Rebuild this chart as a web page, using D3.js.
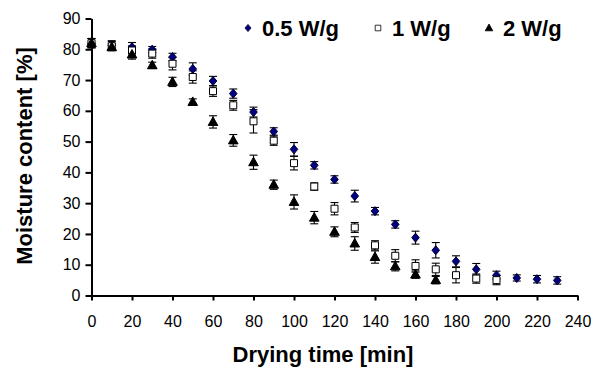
<!DOCTYPE html>
<html lang="en">
  <head>
    <title>moisture content vs drying time</title>
    <meta content="text/html;charset=utf-8" http-equiv="Content-Type">
    <script src="https://cdn.jsdelivr.net/npm/d3@7/dist/d3.min.js"></script>
    <style>
      body { margin: 0; background: #fff; }
      text { font-family: 'Liberation Sans', Arial, sans-serif; }
    </style>
  </head>

  <body>
    <div id='main'></div>
  </body>

  <script type='text/javascript'>

      // drying time [min] for each series
      const time05 = [0,10,20,30,40,50,60,70,80,90,100,110,120,130,140,150,160,170,180,190,200,210,220,230];
      const time1  = [0,10,20,30,40,50,60,70,80,90,100,110,120,130,140,150,160,170,180,190,200];
      const time2  = [0,10,20,30,40,50,60,70,80,90,100,110,120,130,140,150,160,170];

      // moisture content [%] and error (+/-)
      const moist05 = [82,81.3,80.7,79.9,77.5,73.6,69.7,65.6,59.6,53.3,47.5,42.3,37.7,32.3,27.4,23.1,18.8,14.7,11.1,8.5,6.6,5.7,5.3,4.9];
      const err05   = [1.5,1.5,1.5,1,1.2,2,1.5,1.5,1.6,1.2,2.2,1.2,1.2,1.9,1.2,1.2,2.1,2.5,1.8,1.9,1.3,1,1.2,1.2];
      const moist1  = [82,81,79.6,78.6,75.3,71,66.4,61.8,56.6,50.3,43,35.4,28.2,22.1,16.3,12.9,9.6,8.5,6.6,5.5,5.0];
      const err1    = [1.5,1.5,1.5,1.5,2,2,1.7,1.6,3.8,1.5,2.2,1.2,2,1.6,1.5,2,2,2,2.5,1.5,1.5];
      const moist2  = [82,80.7,78.3,74.8,69.4,62.9,56.4,50.4,43.3,36.0,30.4,25.3,20.7,16.9,12.5,9.5,6.8,5.0];
      const err2    = [1.5,1,1.5,1,1.5,1,2,1.9,2.3,1.5,2.3,2,1.6,2.2,2,1.5,1.2,1.2];

      const seriesNames = ['0.5 W/g', '1 W/g', '2 W/g'];
      const xTicks = d3.range(0, 241, 20);
      const yTicks = d3.range(0, 91, 10);

      const series = [
        {name: seriesNames[0], t: time05, m: moist05, e: err05, shape: 'diamond'},
        {name: seriesNames[1], t: time1,  m: moist1,  e: err1,  shape: 'square'},
        {name: seriesNames[2], t: time2,  m: moist2,  e: err2,  shape: 'triangle'}
      ];

      let canvas = d3.select('#main').append('svg')
        .attr('width', 591)
        .attr('height', 367);

      const x = d3.scaleLinear().domain([0, 240]).range([91.5, 577.5]);
      const y = d3.scaleLinear().domain([0, 90]).range([295.5, 18.5]);

      // marker shapes
      function markerPath(shape) {
        if (shape == 'diamond') return 'M0,-4.5L3.8,0L0,4.5L-3.8,0Z';
        if (shape == 'square') return 'M-3.5,-3.5H3.5V3.5H-3.5Z';
        return 'M0,-5L4.8,3.5H-4.8Z';
      }
      const markerStyle = {
        diamond:  {fill: '#000080', stroke: '#000033'},
        square:   {fill: '#ffffff', stroke: '#000000'},
        triangle: {fill: '#000000', stroke: '#000000'}
      };

      // axes
      const xAxis = canvas.append('g')
        .attr('transform', `translate(0,${y(0)})`)
        .call(d3.axisBottom(x).tickValues(xTicks).tickSize(5).tickSizeOuter(0).tickPadding(15));
      const yAxis = canvas.append('g')
        .attr('transform', `translate(${x(0)},0)`)
        .call(d3.axisLeft(y).tickValues(yTicks).tickSize(6).tickSizeOuter(0).tickPadding(5));

      [xAxis, yAxis].forEach(a => {
        a.select('.domain').attr('stroke', '#000').attr('stroke-width', 2);
        a.selectAll('.tick line').attr('stroke', '#000').attr('stroke-width', 2);
        a.selectAll('.tick text')
          .attr('font-family', "'Liberation Sans', Arial, sans-serif")
          .attr('font-size', '16px')
          .attr('fill', '#000');
      });

      // error bars
      series.forEach(s => {
        const g = canvas.append('g').attr('class', 'errbars');
        const pts = s.t.map((t, i) => ({t: t, m: s.m[i], e: s.e[i]}));
        g.selectAll('line.v').data(pts).enter().append('line')
          .attr('x1', d => x(d.t)).attr('x2', d => x(d.t))
          .attr('y1', d => y(d.m - d.e)).attr('y2', d => y(d.m + d.e))
          .attr('stroke', '#000').attr('stroke-width', 1.1);
        [-1, 1].forEach(sg => {
          g.selectAll('line.c' + sg).data(pts).enter().append('line')
            .attr('x1', d => x(d.t) - 4).attr('x2', d => x(d.t) + 4)
            .attr('y1', d => y(d.m + sg * d.e)).attr('y2', d => y(d.m + sg * d.e))
            .attr('stroke', '#000').attr('stroke-width', 1.1);
        });
      });

      // markers
      series.forEach(s => {
        const pts = s.t.map((t, i) => ({t: t, m: s.m[i]}));
        canvas.append('g').selectAll('path').data(pts).enter().append('path')
          .attr('d', markerPath(s.shape))
          .attr('transform', d => `translate(${x(d.t)},${y(d.m)})`)
          .attr('fill', markerStyle[s.shape].fill)
          .attr('stroke', markerStyle[s.shape].stroke)
          .attr('stroke-width', 1);
      });

      // legend
      const legendX = [248, 378, 489];
      const legend = canvas.append('g').selectAll('g').data(series).enter().append('g')
        .attr('transform', (d, i) => `translate(${legendX[i]},28)`);
      legend.append('path')
        .attr('d', d => markerPath(d.shape))
        .attr('transform', 'scale(0.8)')
        .attr('fill', d => markerStyle[d.shape].fill)
        .attr('stroke', d => markerStyle[d.shape].stroke);
      legend.append('text')
        .attr('x', 14)
        .attr('y', 7.5)
        .attr('font-size', '22px')
        .attr('font-weight', 'bold')
        .text(d => d.name);

      // axis titles
      canvas.append('text')
        .attr('x', 323)
        .attr('y', 362)
        .attr('text-anchor', 'middle')
        .attr('font-size', '22px')
        .attr('font-weight', 'bold')
        .text('Drying time [min]');
      canvas.append('text')
        .attr('transform', 'translate(32,156) rotate(-90)')
        .attr('text-anchor', 'middle')
        .attr('font-size', '22px')
        .attr('font-weight', 'bold')
        .text('Moisture content [%]');

  </script>
</html>
